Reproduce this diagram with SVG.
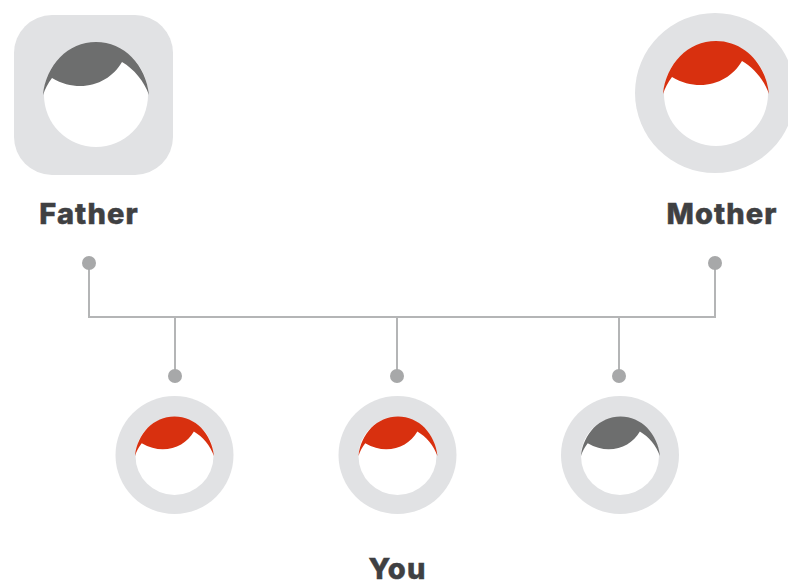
<svg xmlns="http://www.w3.org/2000/svg" width="788" height="586" viewBox="0 0 788 586">
<style>
.bg{fill:#e1e2e4}.face{fill:#fff}.gray{fill:#6d6e6e}.red{fill:#d8300f}
.dot{fill:#a7a8a9}.line{fill:none;stroke:#b4b5b6;stroke-width:2}
text{font-family:"Inter","Liberation Sans",sans-serif;font-weight:800;font-size:29px;letter-spacing:1.1px;stroke:#3f4042;stroke-width:.5px;fill:#3f4042;text-anchor:middle}
</style>
<defs>
<path id="hair" d="M-53 0C-50-30-28-53 0-53C28-53 50-30 53 0C48-14 38-26 26-33C14-12-15 0-44-17C-48-12-51-6-53 0Z"/>
</defs>
<rect width="788" height="586" fill="#fff"/>
<g id="connectors">
<path class="line" d="M89 263V317H715V263"/>
<path class="line" d="M175 317V376M397 317V376M619 317V376"/>
<circle class="dot" cx="89" cy="263" r="7"/>
<circle class="dot" cx="715" cy="263" r="7"/>
<circle class="dot" cx="175" cy="376" r="7"/>
<circle class="dot" cx="397" cy="376" r="7"/>
<circle class="dot" cx="619" cy="376" r="7"/>
</g>
<g id="father">
<rect class="bg" x="14" y="15" width="159" height="160" rx="38"/>
<circle class="face" cx="96" cy="95" r="52"/>
<use href="#hair" class="gray" transform="translate(96 95)"/>
<text x="89" y="224">Father</text>
</g>
<g id="mother">
<circle class="bg" cx="715" cy="93" r="80"/>
<circle class="face" cx="716" cy="94" r="52"/>
<use href="#hair" class="red" transform="translate(716 94)"/>
<text x="722" y="224">Mother</text>
</g>
<g id="child1">
<circle class="bg" cx="174.500" cy="455" r="59"/>
<circle class="face" cx="174.500" cy="456" r="39"/>
<use href="#hair" class="red" transform="translate(174.500 456) scale(.745)"/>
</g>
<g id="child2">
<circle class="bg" cx="397.500" cy="455" r="59"/>
<circle class="face" cx="397.500" cy="456" r="39"/>
<use href="#hair" class="red" transform="translate(398 456) scale(.745)"/>
</g>
<g id="child3">
<circle class="bg" cx="620" cy="455" r="59"/>
<circle class="face" cx="620" cy="456" r="39"/>
<use href="#hair" class="gray" transform="translate(620.500 456) scale(.745)"/>
</g>
<g id="you"><text x="397.500" y="579">You</text></g>
</svg>
